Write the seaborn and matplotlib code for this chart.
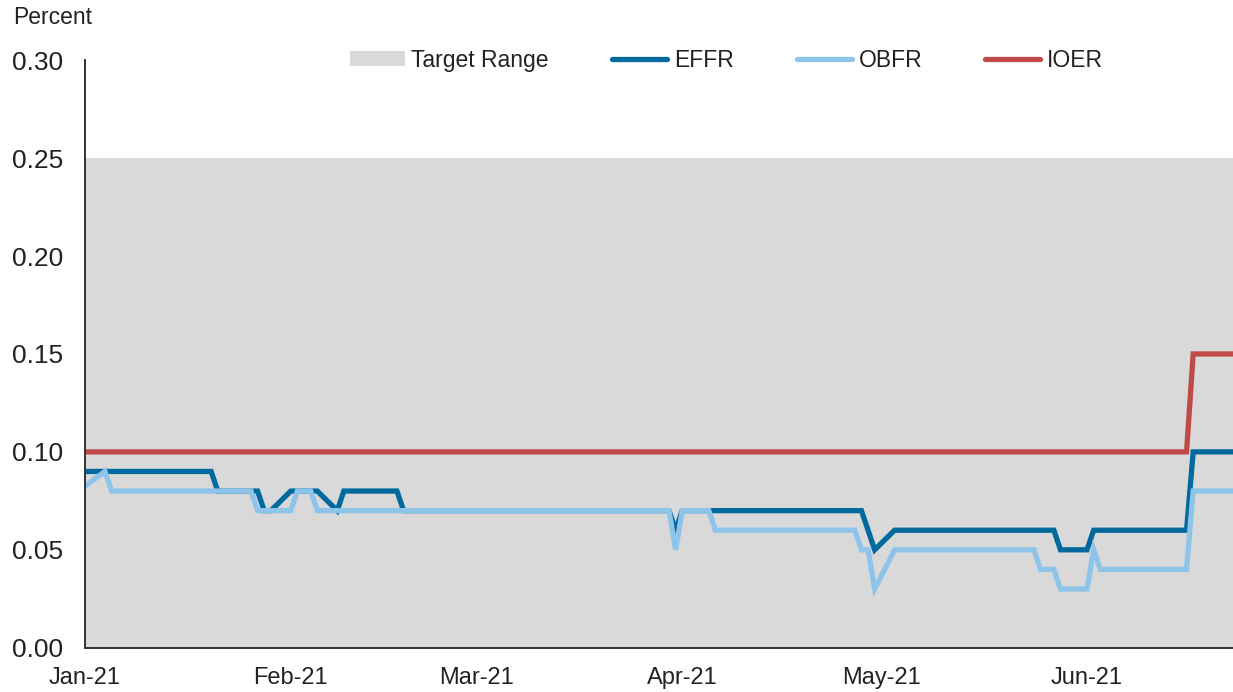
import matplotlib
matplotlib.use("Agg")
import matplotlib.dates as mdates
import matplotlib.pyplot as plt
from matplotlib.lines import Line2D
from matplotlib.patches import Patch
import pandas as pd
import seaborn as sns

# Business days Dec 31 2020 - Jun 23 2021 (market holidays removed)
holidays = ["2021-01-01", "2021-01-18", "2021-02-15", "2021-05-31"]
dates = pd.bdate_range("2020-12-31", "2021-06-23", freq="C", holidays=holidays)

# Rates in percent, one value per business day, month by month
effr = (
    [0.09]  # Dec 31
    + [0.09] * 12 + [0.08] * 5 + [0.07] * 2  # Jan
    + [0.08] * 5 + [0.07] + [0.08] * 6 + [0.07] * 7  # Feb
    + [0.07] * 22 + [0.06]  # Mar
    + [0.07] * 20 + [0.06, 0.05]  # Apr
    + [0.06] * 19 + [0.05]  # May
    + [0.05] + [0.06] * 11 + [0.10] * 5  # Jun
)
obfr = (
    [0.08]  # Dec 31
    + [0.09] + [0.08] * 15 + [0.07] * 3  # Jan
    + [0.07] + [0.08] * 3 + [0.07] * 15  # Feb
    + [0.07] * 22 + [0.05]  # Mar
    + [0.07] * 3 + [0.06] * 16 + [0.05, 0.05] + [0.03]  # Apr
    + [0.05] * 16 + [0.04] * 3 + [0.03]  # May
    + [0.03, 0.05] + [0.04] * 10 + [0.08] * 5  # Jun
)
ioer = [0.10] * (len(dates) - 5) + [0.15] * 5

target_low = 0.00
target_high = 0.25

series_names = ["EFFR", "OBFR", "IOER"]
colors = {"EFFR": "#006a9e", "OBFR": "#8fc4ea", "IOER": "#be4b48"}

df = pd.DataFrame({"date": dates, "EFFR": effr, "OBFR": obfr, "IOER": ioer})
df_long = df.melt(id_vars="date", var_name="series", value_name="rate")

sns.set_style("white")
plt.rcParams["font.family"] = ["Liberation Sans", "DejaVu Sans"]

fig, ax = plt.subplots(figsize=(12.33, 6.92), dpi=100)
fig.subplots_adjust(left=0.069, right=1.0, bottom=0.064, top=0.913)

# Target range band
ax.fill_between(df["date"], target_low, target_high, color="#d9d9d9", lw=0, zorder=0)

sns.lineplot(
    data=df_long, x="date", y="rate", hue="series", hue_order=series_names,
    palette=colors, linewidth=3.8, legend=False, ax=ax, zorder=3,
)
for line in ax.lines:
    line.set_solid_joinstyle("miter")

ax.set_xlim(pd.Timestamp("2021-01-01"), pd.Timestamp("2021-06-23"))
ax.set_ylim(0, 0.30)
ax.set_yticks([0.0, 0.05, 0.10, 0.15, 0.20, 0.25, 0.30])
ax.yaxis.set_major_formatter(plt.FuncFormatter(lambda v, p: f"{v:.2f}"))
ax.xaxis.set_major_locator(mdates.MonthLocator())
ax.xaxis.set_major_formatter(mdates.DateFormatter("%b-%y"))
ax.set_xlabel("")
ax.set_ylabel("")

for s in ["top", "right"]:
    ax.spines[s].set_visible(False)
for s in ["left", "bottom"]:
    ax.spines[s].set_color("#333333")
    ax.spines[s].set_linewidth(1.4)
    ax.spines[s].set_zorder(5)

ax.tick_params(axis="y", direction="in", length=6, width=1.2, color="#333333",
               labelsize=19, pad=16, labelcolor="#222222")
ax.tick_params(axis="x", direction="out", length=5, width=1.0, color="#333333",
               labelsize=17, pad=9, labelcolor="#222222")
ax.set_axisbelow(False)

fig.text(0.011, 0.975, "Percent", fontsize=16.5, color="#222222", va="center", ha="left")

handles = [Patch(facecolor="#d9d9d9", edgecolor="none", label="Target Range")]
handles += [Line2D([0], [0], color=colors[n], lw=3.8, label=n) for n in series_names]
fig.legend(
    handles=handles, loc="center", bbox_to_anchor=(0.589, 0.913), ncol=4,
    frameon=False, fontsize=16.5, handlelength=2.4, handleheight=0.6,
    handletextpad=0.3, columnspacing=2.75, labelcolor="#222222",
)

fig.savefig("out.png", dpi=100)
